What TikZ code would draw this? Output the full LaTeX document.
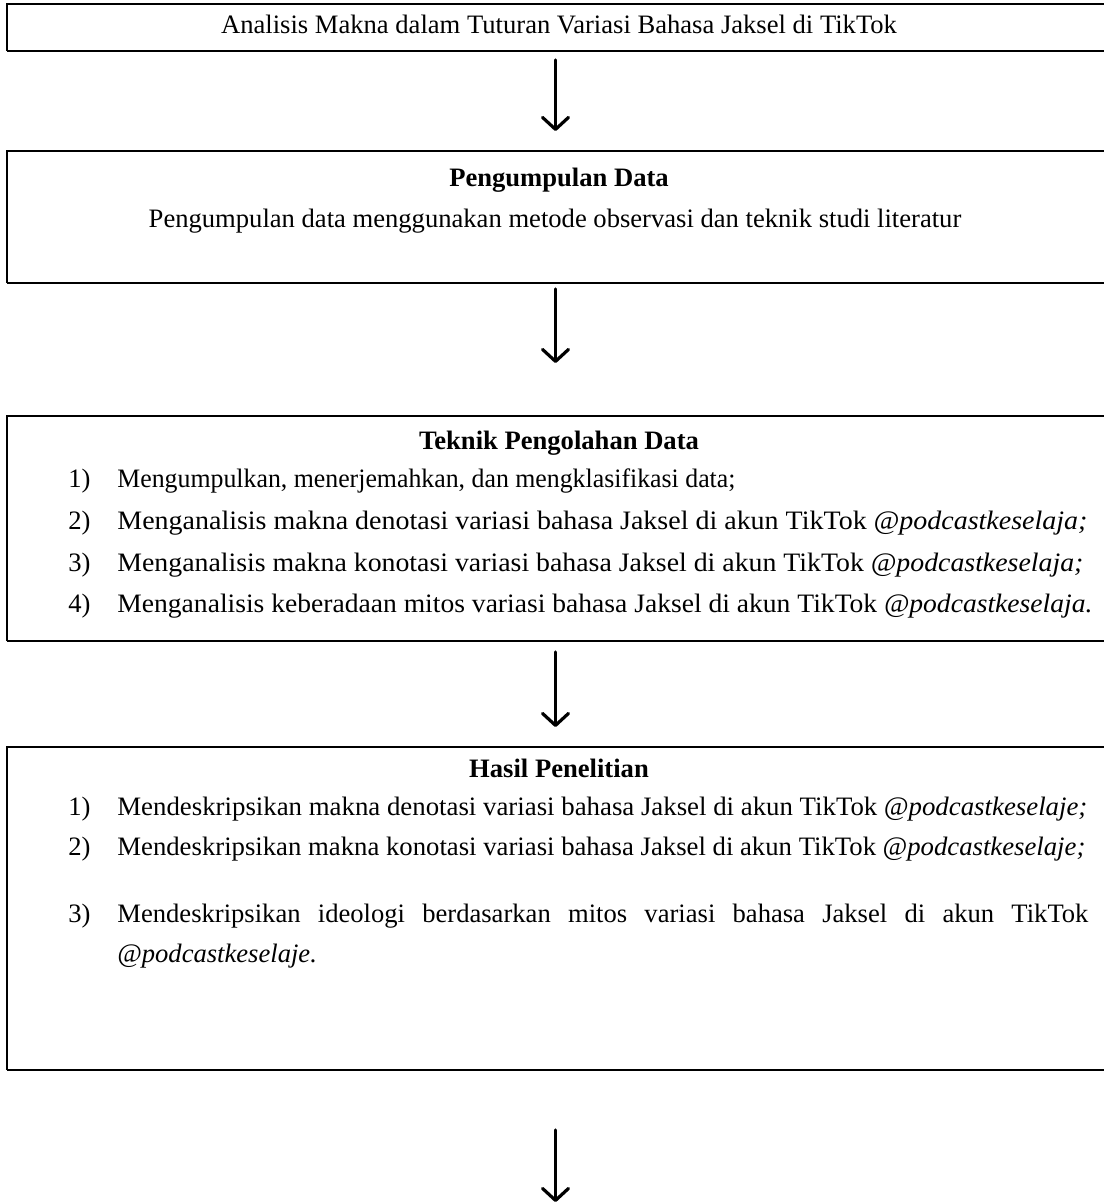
\documentclass[tikz,border=0pt]{standalone}
\usepackage{fontspec}
\usepackage{graphicx}
\setmainfont{Liberation Serif}
\usetikzlibrary{arrows.meta,positioning,fit}

\tikzset{
    boxtext/.style={font=\fontsize{13.3pt}{20pt}\selectfont, inner sep=0pt},
    heading/.style={boxtext, font=\fontsize{13.3pt}{20pt}\selectfont\bfseries, anchor=base},
    itemtext/.style={boxtext, anchor=base west},
    boxarea/.style={inner sep=0pt, outer sep=0pt},
    edgethin/.style={line width=0.7pt},
    edgethick/.style={line width=1.4pt},
    flowarrow/.style={-{Straight Barb[length=6pt,width=13pt,round]}, line width=1.6pt, line cap=round}
}
\newcommand{\boxedges}[1]{%
    \draw[edgethin] (#1.south west) -- (#1.north west) -- (#1.north east);
    \draw[edgethick] (#1.south west) -- (#1.south east);
}

\begin{document}
\begin{tikzpicture}[x=0.5pt,y=-0.5pt]
    \useasboundingbox (0,0) rectangle (1104,1204);

    % Boxes (right side runs off the page)
    \node[boxarea, fit={(7,4) (1104,51)}] (topic) {};
    \node[boxarea, fit={(7,151) (1104,283)}] (collect) {};
    \node[boxarea, fit={(7,416) (1104,641)}] (process) {};
    \node[boxarea, fit={(7,747) (1104,1070)}] (result) {};
    \boxedges{topic}
    \boxedges{collect}
    \boxedges{process}
    \boxedges{result}

    % Topic
    \node[heading, font=\fontsize{13.3pt}{20pt}\selectfont] (topictext) at (559,34)
        {Analisis Makna dalam Tuturan Variasi Bahasa Jaksel di TikTok};

    % Data collection
    \node[heading] (collecthead) at (559,186) {Pengumpulan Data};
    \node[boxtext, anchor=base] (collecttext) at (555,227)
        {Pengumpulan data menggunakan metode observasi dan teknik studi literatur};

    % Data processing
    \node[heading] (processhead) at (559,449) {Teknik Pengolahan Data};
    \foreach \n/\y/\w/\txt in {
        1/487/309pt/{Mengumpulkan, menerjemahkan, dan mengklasifikasi data;},
        2/529/485pt/{Menganalisis makna denotasi variasi bahasa Jaksel di akun TikTok \textit{@podcastkeselaja;}},
        3/571/483pt/{Menganalisis makna konotasi variasi bahasa Jaksel di akun TikTok \textit{@podcastkeselaja;}},
        4/612/487.5pt/{Menganalisis keberadaan mitos variasi bahasa Jaksel di akun TikTok \textit{@podcastkeselaja.}}} {
        \node[itemtext] (procnum\n) at (68,\y) {\n)};
        \node[itemtext] (proctext\n) at (117,\y) {\resizebox{\w}{\height}{\txt}};
    }

    % Results
    \node[heading] (resulthead) at (559,777) {Hasil Penelitian};
    \foreach \n/\y/\w/\txt in {
        1/815/485pt/{Mendeskripsikan makna denotasi variasi bahasa Jaksel di akun TikTok \textit{@podcastkeselaje;}},
        2/855/484pt/{Mendeskripsikan makna konotasi variasi bahasa Jaksel di akun TikTok \textit{@podcastkeselaje;}}} {
        \node[itemtext] (resnum\n) at (68,\y) {\n)};
        \node[itemtext] (restext\n) at (117,\y) {\resizebox{\w}{\height}{\txt}};
    }
    \node[itemtext] (resnum3) at (68,922) {3)};
    \node[itemtext] (restext3) at (117,922)
        {\makebox[485.5pt][s]{Mendeskripsikan ideologi berdasarkan mitos variasi bahasa Jaksel di akun TikTok}};
    \node[itemtext] (restext3b) at (117,962) {\textit{@podcastkeselaje.}};

    % Arrows
    \coordinate (flowend) at (555.5,1202);
    \draw[flowarrow, shorten <=4.5pt, shorten >=10pt] (topic.south) -- (collect.north);
    \draw[flowarrow, shorten <=3pt, shorten >=26.5pt] (collect.south) -- (process.north);
    \draw[flowarrow, shorten <=5.5pt, shorten >=10pt] (process.south) -- (result.north);
    \draw[flowarrow, shorten <=30pt] (result.south) -- (flowend);
\end{tikzpicture}
\end{document}
